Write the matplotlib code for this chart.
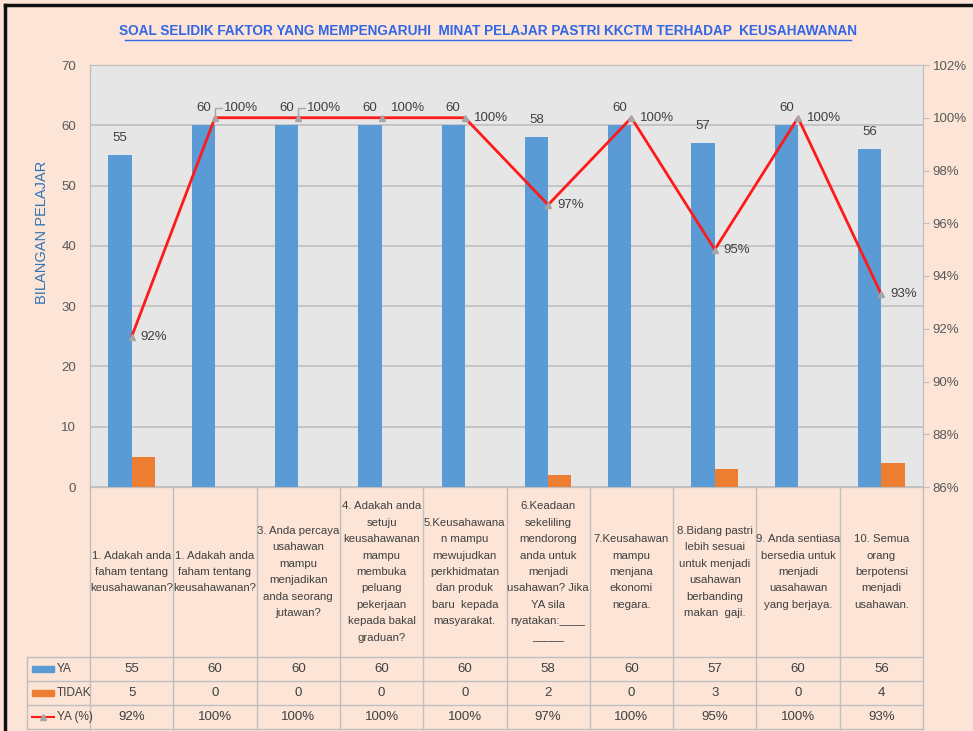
import numpy as np
import matplotlib
matplotlib.use("Agg")
import matplotlib.pyplot as plt
from matplotlib.ticker import FuncFormatter, MultipleLocator

plt.rcParams['font.family'] = ['Liberation Sans', 'DejaVu Sans']

# ---------------------------------------------------------------------
# DATA
# ---------------------------------------------------------------------
kategori = [
    "1. Adakah anda\nfaham tentang\nkeusahawanan?",
    "1. Adakah anda\nfaham tentang\nkeusahawanan?",
    "3. Anda percaya\nusahawan\nmampu\nmenjadikan\nanda seorang\njutawan?",
    "4. Adakah anda\nsetuju\nkeusahawanan\nmampu\nmembuka\npeluang\npekerjaan\nkepada bakal\ngraduan?",
    "5.Keusahawana\nn mampu\nmewujudkan\nperkhidmatan\ndan produk\nbaru  kepada\nmasyarakat.",
    "6.Keadaan\nsekeliling\nmendorong\nanda untuk\nmenjadi\nusahawan? Jika\nYA sila\nnyatakan:____\n_____",
    "7.Keusahawan\nmampu\nmenjana\nekonomi\nnegara.",
    "8.Bidang pastri\nlebih sesuai\nuntuk menjadi\nusahawan\nberbanding\nmakan  gaji.",
    "9. Anda sentiasa\nbersedia untuk\nmenjadi\nuasahawan\nyang berjaya.",
    "10. Semua\norang\nberpotensi\nmenjadi\nusahawan.",
]
ya = [55, 60, 60, 60, 60, 58, 60, 57, 60, 56]
tidak = [5, 0, 0, 0, 0, 2, 0, 3, 0, 4]
ya_pct = [0.917, 1.0, 1.0, 1.0, 1.0, 0.967, 1.0, 0.95, 1.0, 0.933]

JUDUL = "SOAL SELIDIK FAKTOR YANG MEMPENGARUHI  MINAT PELAJAR PASTRI KKCTM TERHADAP  KEUSAHAWANAN"

PEACH = "#FCE4D6"
PLOT_BG = "#E7E6E6"
BIRU = "#5B9BD5"
OREN = "#ED7D31"
MERAH = "#FF1A1A"
GRID = "#BFBFBF"
TEKS = "#404040"
TEKS_PAKSI = "#595959"

W, H = 973, 731

fig = plt.figure(figsize=(W / 100, H / 100), dpi=100, facecolor=PEACH)

# lapisan latar (koordinat piksel) untuk jadual & bingkai
bg = fig.add_axes([0, 0, 1, 1])
bg.set_xlim(0, W); bg.set_ylim(H, 0); bg.axis("off")
bg.set_zorder(-1)

# bingkai gelap di kiri & atas
bg.plot([5, 5], [5, H + 5], color="#111111", lw=2.5)
bg.plot([5, W + 5], [5, 5], color="#111111", lw=2.5)

# ---------------------------------------------------------------------
# CARTA UTAMA
# ---------------------------------------------------------------------
x0, x1, y0, y1 = 90, 923, 65, 487
ax = fig.add_axes([x0 / W, (H - y1) / H, (x1 - x0) / W, (y1 - y0) / H])
ax.set_facecolor(PLOT_BG)
x = np.arange(len(ya))
w = 0.28
ax.bar(x - w / 2, ya, w, color=BIRU, zorder=3)
ax.bar(x + w / 2, tidak, w, color=OREN, zorder=3)
ax.set_xlim(-0.5, len(ya) - 0.5)
ax.set_ylim(0, 70)
ax.yaxis.set_major_locator(MultipleLocator(10))
ax.grid(axis="y", color=GRID, lw=1.2, zorder=0)
ax.set_xticks([])
ax.tick_params(axis="y", length=0, pad=10, labelsize=9.5, labelcolor=TEKS_PAKSI)
for s in ax.spines.values():
    s.set_color(GRID)

fig.text(42 / W, 1 - 232 / H, "BILANGAN PELAJAR", rotation=90, ha="center",
         va="center", color="#2E75B6", fontsize=10.5)

for xi, v in zip(x, ya):
    ax.annotate(str(v), (xi - w / 2, v), xytext=(0, 17), textcoords="offset pixels",
                ha="center", va="center", fontsize=9.5, color=TEKS)

ax2 = ax.twinx()
ax2.plot(x, ya_pct, color=MERAH, lw=2, marker="^", ms=4,
         mfc="#A6A6A6", mec="#A6A6A6", zorder=4)
ax2.set_ylim(0.86, 1.02)
ax2.yaxis.set_major_locator(MultipleLocator(0.02))
ax2.yaxis.set_major_formatter(FuncFormatter(lambda v, p: f"{v:.0%}"))
ax2.tick_params(axis="y", length=4, color=GRID, pad=3, labelsize=9.5, labelcolor=TEKS_PAKSI)
for s in ax2.spines.values():
    s.set_color(GRID)

for i, p in enumerate(ya_pct):
    dy = 10 if i in (1, 2, 3) else 0
    ax2.annotate(f"{p:.0%}", (i, p), xytext=(9, dy), textcoords="offset pixels",
                 ha="left", va="center", fontsize=9.5, color=TEKS)
    if i in (1, 2):
        ax2.annotate("", (i, p), xytext=(7, dy), textcoords="offset pixels",
                     arrowprops=dict(arrowstyle="-", color="#A6A6A6", lw=1,
                                     connectionstyle="angle,angleA=0,angleB=90,rad=0",
                                     shrinkA=0, shrinkB=0))

# ---------------------------------------------------------------------
# JUDUL
# ---------------------------------------------------------------------
fig.text(488 / W, 1 - 31 / H, JUDUL, ha="center", va="center", fontsize=9.8,
         fontweight="bold", color="#3366E6")
bg.plot([125, 851], [40, 40], color="#3366E6", lw=1)

# ---------------------------------------------------------------------
# JADUAL DATA
# ---------------------------------------------------------------------
lebar = (x1 - x0) / len(ya)
baris = [487, 657, 681, 705, 729]
garis = dict(color="#BFBFBF", lw=1)
for yy in baris[1:]:
    bg.plot([27, x1], [yy, yy], **garis)
for k in range(len(ya) + 1):
    xx = x0 + k * lebar
    bg.plot([xx, xx], [487, baris[-1]], **garis)
bg.plot([27, 27], [baris[1], baris[-1]], **garis)

for k, lbl in enumerate(kategori):
    cx = x0 + (k + 0.5) * lebar
    bg.text(cx, 572, lbl, ha="center", va="center", fontsize=8.2, color=TEKS,
            linespacing=1.8)
    bg.text(cx, 669, str(ya[k]), ha="center", va="center", fontsize=9.5, color=TEKS)
    bg.text(cx, 693, str(tidak[k]), ha="center", va="center", fontsize=9.5, color=TEKS)
    bg.text(cx, 717, f"{ya_pct[k]:.0%}", ha="center", va="center", fontsize=9.5, color=TEKS)

# kunci legenda di lajur kiri
bg.add_patch(plt.Rectangle((32, 666), 22, 6, color=BIRU))
bg.add_patch(plt.Rectangle((32, 690), 22, 6, color=OREN))
bg.plot([32, 54], [717, 717], color=MERAH, lw=1.5)
bg.plot([43], [717], marker="^", ms=4, color="#A6A6A6")
for yy, t in zip([669, 693, 717], ["YA", "TIDAK", "YA (%)"]):
    bg.text(57, yy, t, ha="left", va="center", fontsize=8.5, color=TEKS)

fig.savefig("out.png", dpi=100, facecolor=PEACH)
